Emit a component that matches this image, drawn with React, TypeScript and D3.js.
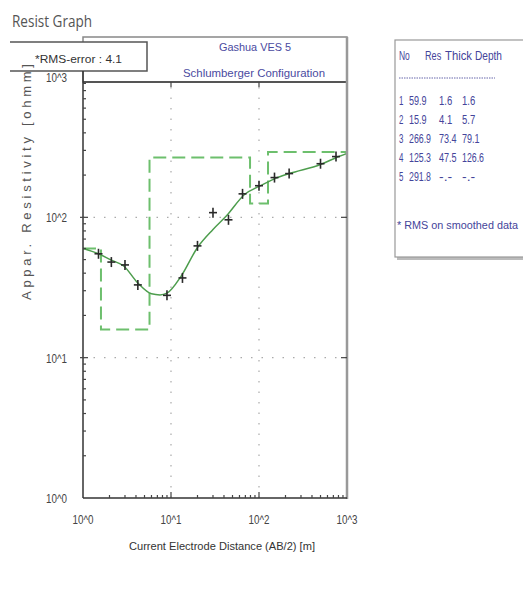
import React, { useEffect, useRef } from 'react';
import * as d3 from 'd3';

// layer model (IPI-style table)
const layerNo = [1, 2, 3, 4, 5];
const layerRes = [59.9, 15.9, 266.9, 125.3, 291.8];
const layerThick = [1.6, 4.1, 73.4, 47.5];
const layerDepth = [1.6, 5.7, 79.1, 126.6];

// field sounding: AB/2 [m] vs apparent resistivity [ohmm]
const abHalf = [1.5, 2.1, 3, 4.2, 9, 13.5, 20, 30, 45, 65, 100, 150, 220, 500, 750];
const rhoA = [55, 48, 45.8, 33, 27.8, 37, 62.6, 108, 96, 147, 168, 192, 205, 241, 271];

// calculated model response curve
const curveX = [1, 1.5, 2.1, 2.9, 4.2, 6, 7.5, 9, 13, 20, 30, 43, 69, 100, 150, 220, 500, 770, 1000];
const curveY = [60, 55, 49.5, 45, 34, 28.5, 28, 28.8, 38, 61, 82, 103, 146, 166, 188, 205, 238, 268, 285];

const decades = [1, 10, 100, 1000];
const tickLabels = ['10^0', '10^1', '10^2', '10^3'];

const W = 523;
const H = 600;
const margin = { top: 77, right: 176, bottom: 102, left: 83 };
const FONT = '"Liberation Sans", Arial, sans-serif';

// narrow text: squeeze glyphs to a fixed width per character
const narrow = (sel: any, s: string, per = 4.8) =>
  sel.attr('textLength', s.length * per).attr('lengthAdjust', 'spacingAndGlyphs').text(s);

const ResistGraph = () => {
  const ref = useRef<SVGSVGElement>(null);

  useEffect(() => {
    const svg = d3.select(ref.current);
    svg.selectAll('*').remove();

    const x0 = margin.left, x1 = W - margin.right;
    const y0 = H - margin.bottom, y1 = margin.top;

    const x = d3.scaleLog().domain([1, 1000]).range([x0, x1]);
    const y = d3.scaleLog().domain([1, 1000]).range([y0, y1]);

    svg.append('rect').attr('width', W).attr('height', H).attr('fill', '#fff');

    svg.append('text')
      .attr('x', 12).attr('y', 27)
      .attr('font-family', '"Open Sans", sans-serif')
      .attr('font-size', 16)
      .attr('fill', '#555')
      .attr('textLength', 80).attr('lengthAdjust', 'spacingAndGlyphs')
      .text('Resist Graph');

    svg.append('clipPath').attr('id', 'plotclip')
      .append('rect').attr('x', x0).attr('y', y1).attr('width', x1 - x0).attr('height', y0 - y1);

    // dotted decade grid
    const grid = svg.append('g').attr('stroke', '#aaa').attr('stroke-width', 1.2).attr('stroke-dasharray', '1.5,9');
    grid.selectAll('.gx').data([10, 100]).enter().append('line')
      .attr('x1', d => x(d)).attr('x2', d => x(d)).attr('y1', y0).attr('y2', y1);
    grid.selectAll('.gy').data([10, 100]).enter().append('line')
      .attr('y1', d => y(d)).attr('y2', d => y(d)).attr('x1', x0).attr('x2', x1);

    const plot = svg.append('g').attr('clip-path', 'url(#plotclip)');

    // layered model as step line
    const edges = [1, ...layerDepth, 1000];
    const stepPts: [number, number][] = layerRes.map((r, i) => [edges[i], r]);
    stepPts.push([1000, layerRes[layerRes.length - 1]]);
    plot.append('path')
      .datum(stepPts)
      .attr('fill', 'none')
      .attr('stroke', '#6dbf6d')
      .attr('stroke-width', 2)
      .attr('stroke-dasharray', '13,6')
      .attr('d', d3.line<[number, number]>().x(d => x(d[0])).y(d => y(d[1])).curve(d3.curveStepAfter));

    // response curve
    plot.append('path')
      .datum(curveX.map((v, i) => [v, curveY[i]] as [number, number]))
      .attr('fill', 'none')
      .attr('stroke', '#4d9d4d')
      .attr('stroke-width', 1.5)
      .attr('d', d3.line<[number, number]>().x(d => x(d[0])).y(d => y(d[1])).curve(d3.curveMonotoneX));

    // field data crosses
    const pts = plot.selectAll('.pt').data(abHalf).enter().append('g')
      .attr('transform', (d, i) => `translate(${x(d)},${y(rhoA[i])})`)
      .attr('stroke', '#2a2a2a').attr('stroke-width', 1.6);
    pts.append('line').attr('x1', -4).attr('x2', 4);
    pts.append('line').attr('y1', -5).attr('y2', 5);

    // header box
    svg.append('rect').attr('x', x0).attr('y', 37).attr('width', x1 - x0).attr('height', 45)
      .attr('fill', '#fff').attr('stroke', '#888').attr('stroke-width', 1.5);
    svg.append('line').attr('x1', x0).attr('x2', x1).attr('y1', 82).attr('y2', 82)
      .attr('stroke', '#555').attr('stroke-width', 2);
    svg.append('text').attr('x', 255).attr('y', 51).attr('text-anchor', 'middle')
      .attr('font-family', FONT).attr('font-size', 11).attr('fill', '#4a4aa0')
      .attr('textLength', 72).attr('lengthAdjust', 'spacingAndGlyphs')
      .text('Gashua VES 5');
    svg.append('text').attr('x', 254).attr('y', 77).attr('text-anchor', 'middle')
      .attr('font-family', FONT).attr('font-size', 11).attr('fill', '#4a4aa0')
      .attr('textLength', 142).attr('lengthAdjust', 'spacingAndGlyphs')
      .text('Schlumberger Configuration');

    // RMS box
    svg.append('rect').attr('x', 10).attr('y', 42).attr('width', 137).attr('height', 29).attr('fill', '#fff');
    svg.append('path').attr('d', 'M10,42H147V71H10')
      .attr('fill', 'none').attr('stroke', '#555').attr('stroke-width', 1.5);
    svg.append('text').attr('x', 35).attr('y', 63)
      .attr('font-family', FONT).attr('font-size', 11).attr('fill', '#333')
      .attr('textLength', 87).attr('lengthAdjust', 'spacingAndGlyphs')
      .text('*RMS-error :  4.1');

    // frame
    svg.append('line').attr('x1', x1).attr('x2', x1).attr('y1', 37).attr('y2', y0 + 1)
      .attr('stroke', '#999').attr('stroke-width', 2.5);
    svg.append('line').attr('x1', x0).attr('x2', x0).attr('y1', 71).attr('y2', y0)
      .attr('stroke', '#333').attr('stroke-width', 1.5);
    svg.append('line').attr('x1', x0).attr('x2', x1).attr('y1', y0).attr('y2', y0)
      .attr('stroke', '#333').attr('stroke-width', 1.5);

    // minor & major ticks
    const minors: number[] = [];
    [1, 10, 100].forEach(dec => d3.range(2, 10).forEach(m => minors.push(dec * m)));
    const ticks = svg.append('g').attr('stroke', '#444').attr('stroke-width', 1.2);
    ticks.selectAll('.my').data(minors).enter().append('line')
      .attr('x1', x0).attr('x2', x0 + 3).attr('y1', d => y(d)).attr('y2', d => y(d));
    ticks.selectAll('.mx').data(minors).enter().append('line')
      .attr('y1', y0).attr('y2', y0 - 3).attr('x1', d => x(d)).attr('x2', d => x(d));
    ticks.selectAll('.Ty').data([10, 100]).enter().append('line')
      .attr('x1', x0 - 3).attr('x2', x0 + 5).attr('y1', d => y(d)).attr('y2', d => y(d));
    ticks.selectAll('.Tyr').data([10, 100]).enter().append('line')
      .attr('x1', x1 - 6).attr('x2', x1).attr('y1', d => y(d)).attr('y2', d => y(d));
    ticks.selectAll('.Tx').data([10, 100]).enter().append('line')
      .attr('y1', y0).attr('y2', y0 - 6).attr('x1', d => x(d)).attr('x2', d => x(d));
    ticks.selectAll('.Txt').data([10, 100]).enter().append('line')
      .attr('y1', 82).attr('y2', 87).attr('x1', d => x(d)).attr('x2', d => x(d));

    // tick labels
    svg.selectAll('.xl').data(decades).enter().append('text')
      .attr('x', d => x(d)).attr('y', y0 + 26).attr('text-anchor', 'middle')
      .attr('font-family', FONT).attr('font-size', 12).attr('fill', '#444')
      .attr('textLength', 21).attr('lengthAdjust', 'spacingAndGlyphs')
      .text((d, i) => tickLabels[i]);
    svg.selectAll('.yl').data(decades).enter().append('text')
      .attr('x', 67).attr('y', d => y(d) + 5).attr('text-anchor', 'end')
      .attr('font-family', FONT).attr('font-size', 12).attr('fill', '#444')
      .attr('textLength', 21).attr('lengthAdjust', 'spacingAndGlyphs')
      .text((d, i) => tickLabels[i]);

    // axis titles
    svg.append('text')
      .attr('transform', `translate(${(x0 + x1) / 2 + 7}, ${y0 + 52})`)
      .attr('text-anchor', 'middle')
      .attr('font-family', FONT).attr('font-size', 11.5).attr('fill', '#333')
      .attr('textLength', 186).attr('lengthAdjust', 'spacingAndGlyphs')
      .text('Current Electrode Distance (AB/2) [m]');
    svg.append('text')
      .attr('transform', 'translate(31, 182) rotate(-90)')
      .attr('text-anchor', 'middle')
      .attr('font-family', FONT).attr('font-size', 13).attr('fill', '#555')
      .attr('textLength', 236).attr('lengthAdjust', 'spacing')
      .text('Appar. Resistivity [ohmm]');

    // layer table panel
    const px = 395;
    svg.append('rect').attr('x', px + 2).attr('y', 42).attr('width', 140).attr('height', 218).attr('fill', '#bbb');
    svg.append('rect').attr('x', px).attr('y', 40).attr('width', 140).attr('height', 217)
      .attr('fill', '#fff').attr('stroke', '#999').attr('stroke-width', 1.2);
    const tab = svg.append('g').attr('font-family', FONT).attr('font-size', 12.5).attr('fill', '#44449a');
    const cols = [399, 409, 439, 462];
    ([['No', 399], ['Res', 425], ['Thick', 445], ['Depth', 475]] as [string, number][]).forEach(([t, cx]) =>
      narrow(tab.append('text').attr('x', cx).attr('y', 60), t, 5.4));
    svg.append('line').attr('x1', 399).attr('x2', 495).attr('y1', 78).attr('y2', 78)
      .attr('stroke', '#66a').attr('stroke-width', 1).attr('stroke-dasharray', '1.5,1');
    layerNo.forEach((n, i) => {
      const ry = 104.5 + i * 19;
      const cells = [
        String(n),
        layerRes[i].toFixed(1),
        i < layerThick.length ? layerThick[i].toFixed(1) : '-.-',
        i < layerDepth.length ? layerDepth[i].toFixed(1) : '-.-',
      ];
      cells.forEach((c, j) => narrow(tab.append('text').attr('x', cols[j]).attr('y', ry), c, 4.4));
    });
    narrow(tab.append('text').attr('x', 397).attr('y', 229).attr('font-size', 11), '* RMS on smoothed data', 5.5);
  }, []);

  return <svg ref={ref} width={W} height={H} style={{ position: 'absolute', left: 0, top: 0 }} />;
};

export default function App() {
  return <ResistGraph />;
}
